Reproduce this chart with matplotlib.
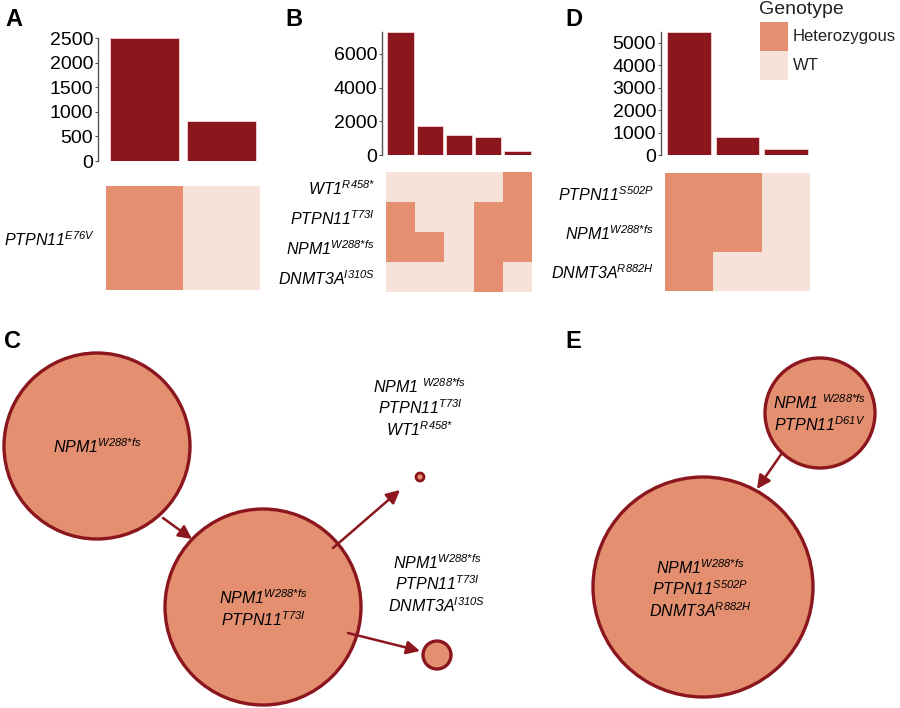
import matplotlib
matplotlib.use("Agg")
import matplotlib.pyplot as plt
from matplotlib.colors import ListedColormap
from matplotlib.patches import Circle, Rectangle
import numpy as np

plt.rcParams['font.family'] = ['Liberation Sans', 'DejaVu Sans']
plt.rcParams['mathtext.fontset'] = 'custom'
plt.rcParams['mathtext.it'] = 'Liberation Sans:italic'
plt.rcParams['mathtext.rm'] = 'Liberation Sans:italic'
plt.rcParams['mathtext.bf'] = 'Liberation Sans:bold'


def g(name, mut, gap=False):
    """gene label: italic name with italic superscript mutation"""
    mut = mut.replace('*', r'}{*}\mathrm{')
    base = r'{\mathrm{%s}\ }' % name if gap else r'\mathrm{%s}' % name
    return r'$%s^{\mathrm{%s}}$' % (base, mut)


# ---------------- data ----------------
bars_A = [2510, 820]
ticks_A = [0, 500, 1000, 1500, 2000, 2500]
genes_A = [g('PTPN11', 'E76V')]
geno_A = [[1, 0]]

bars_B = [7300, 1720, 1200, 1050, 240]
ticks_B = [0, 2000, 4000, 6000]
genes_B = [g('WT1', 'R458*'), g('PTPN11', 'T73I'), g('NPM1', 'W288*fs'), g('DNMT3A', 'I310S')]
geno_B = [[0, 0, 0, 0, 1],
          [1, 0, 0, 1, 1],
          [1, 1, 0, 1, 1],
          [0, 0, 0, 1, 0]]

bars_D = [5490, 800, 270]
ticks_D = [0, 1000, 2000, 3000, 4000, 5000]
genes_D = [g('PTPN11', 'S502P'), g('NPM1', 'W288*fs'), g('DNMT3A', 'R882H')]
geno_D = [[1, 1, 0],
          [1, 1, 0],
          [1, 0, 0]]

legend_title = 'Genotype'
legend_labels = ['Heterozygous', 'WT']

# clone trees (panel C and E)
clones_C = [g('NPM1', 'W288*fs'),
            g('NPM1', 'W288*fs') + '\n' + g('PTPN11', 'T73I'),
            g('NPM1', 'W288*fs', gap=True) + '\n' + g('PTPN11', 'T73I') + '\n' + g('WT1', 'R458*'),
            g('NPM1', 'W288*fs') + '\n' + g('PTPN11', 'T73I') + '\n' + g('DNMT3A', 'I310S')]
radius_C = [93, 98, 4, 14]
clones_E = [g('NPM1', 'W288*fs', gap=True) + '\n' + g('PTPN11', 'D61V'),
            g('NPM1', 'W288*fs') + '\n' + g('PTPN11', 'S502P') + '\n' + g('DNMT3A', 'R882H')]
radius_E = [55, 110]

# ---------------- style ----------------
BAR = '#8B161D'
HET = '#E38F70'
WT = '#F6E2D8'
EDGE = '#8B161D'
W, H = 900, 708

fig = plt.figure(figsize=(W / 100, H / 100), dpi=100)


def box(x0, y0, x1, y1):
    return [x0 / W, 1 - y1 / H, (x1 - x0) / W, (y1 - y0) / H]


def panel(bars, ticks, genes, geno, spine_x, hx0, hx1, y_zero, y_top, hy0, hy1, label_size=11.5):
    n = len(bars)
    colw = (hx1 - hx0) / n
    ymax = max(bars)
    ax = fig.add_axes(box(spine_x, y_top, hx1, y_zero))
    ax.bar(np.arange(n), bars, width=0.9, color=BAR, edgecolor='#f2d6d6', linewidth=0.6)
    ax.set_xlim(-0.5 - (hx0 - spine_x) / colw, n - 0.5)
    ax.set_ylim(0, ymax)
    ax.set_yticks(ticks)
    ax.set_yticklabels([str(t) for t in ticks], fontsize=14)
    ax.set_xticks([])
    for s in ['top', 'right', 'bottom']:
        ax.spines[s].set_visible(False)
    ax.spines['left'].set_color('#555555')
    ax.spines['left'].set_linewidth(1.0)
    ax.tick_params(axis='y', length=2.5, width=0.8, color='#555555', pad=1)
    ax.patch.set_alpha(0)
    hm = fig.add_axes(box(hx0, hy0, hx1, hy1))
    hm.imshow(np.array(geno), cmap=ListedColormap([WT, HET]), vmin=0, vmax=1,
              aspect='auto', interpolation='nearest')
    hm.set_xticks([])
    hm.set_yticks(range(len(genes)))
    hm.set_yticklabels(genes, fontsize=label_size)
    hm.tick_params(axis='y', length=0, pad=8)
    for s in hm.spines.values():
        s.set_visible(False)
    return ax, hm


panel(bars_A, ticks_A, genes_A, geno_A, 98, 106, 260, 161, 38, 186, 290)
panel(bars_B, ticks_B, genes_B, geno_B, 382, 386, 532, 155, 32, 172, 292)
panel(bars_D, ticks_D, genes_D, geno_D, 661, 665, 810, 155, 32, 173, 291)

# legend
fig.text(759 / W, 1 - 10 / H, legend_title, fontsize=14, color='#222222', va='center', ha='left')
for i, (lab, col) in enumerate(zip(legend_labels, [HET, WT])):
    y0 = 22 + i * 29
    fig.patches.append(Rectangle((760 / W, 1 - (y0 + 29) / H), 28 / W, 29 / H,
                                 transform=fig.transFigure, facecolor=col, edgecolor='none'))
    fig.text(793 / W, 1 - (y0 + 15) / H, lab, fontsize=12, color='#222222', va='center', ha='left')

# panel letters
for let, (x, y) in zip(['A', 'B', 'D', 'C', 'E'],
                       [(5, 19), (285, 19), (565, 19), (4, 341), (565, 341)]):
    fig.text(x / W, 1 - y / H, let, fontsize=17, fontweight='heavy', va='center', ha='left')

# overlay axis for clone trees
ov = fig.add_axes([0, 0, 1, 1])
ov.set_xlim(0, W)
ov.set_ylim(H, 0)
ov.axis('off')
ov.patch.set_alpha(0)

centers_C = [(97, 446), (263, 607), (420, 477), (437, 655)]
text_pos_C = [(97, 447), (263, 609), (420, 408), (437, 584)]
for c, r, lab, tp in zip(centers_C, radius_C, clones_C, text_pos_C):
    ov.add_patch(Circle(c, r, facecolor=HET, edgecolor=EDGE, linewidth=2.4 if r > 10 else 2.0, zorder=2))
    ov.text(tp[0], tp[1], lab, fontsize=11.5, ha='center', va='center', multialignment='center',
            linespacing=1.2, zorder=3)

centers_E = [(820, 413), (703, 587)]
text_pos_E = [(820, 414), (700, 589)]
for c, r, lab, tp in zip(centers_E, radius_E, clones_E, text_pos_E):
    ov.add_patch(Circle(c, r, facecolor=HET, edgecolor=EDGE, linewidth=2.4, zorder=2))
    ov.text(tp[0], tp[1], lab, fontsize=11.5, ha='center', va='center', multialignment='center',
            linespacing=1.2, zorder=3)

arrows = [((163, 518), (192, 539)), ((333, 548), (400, 490)),
          ((348, 633), (420, 651)), ((782, 453), (757, 489))]
for (x0, y0), (x1, y1) in arrows:
    ov.annotate('', xy=(x1, y1), xytext=(x0, y0),
                arrowprops=dict(arrowstyle='-|>', color=EDGE, lw=1.8, mutation_scale=20,
                                shrinkA=0, shrinkB=0), zorder=4)

fig.savefig('out.png', dpi=100)
